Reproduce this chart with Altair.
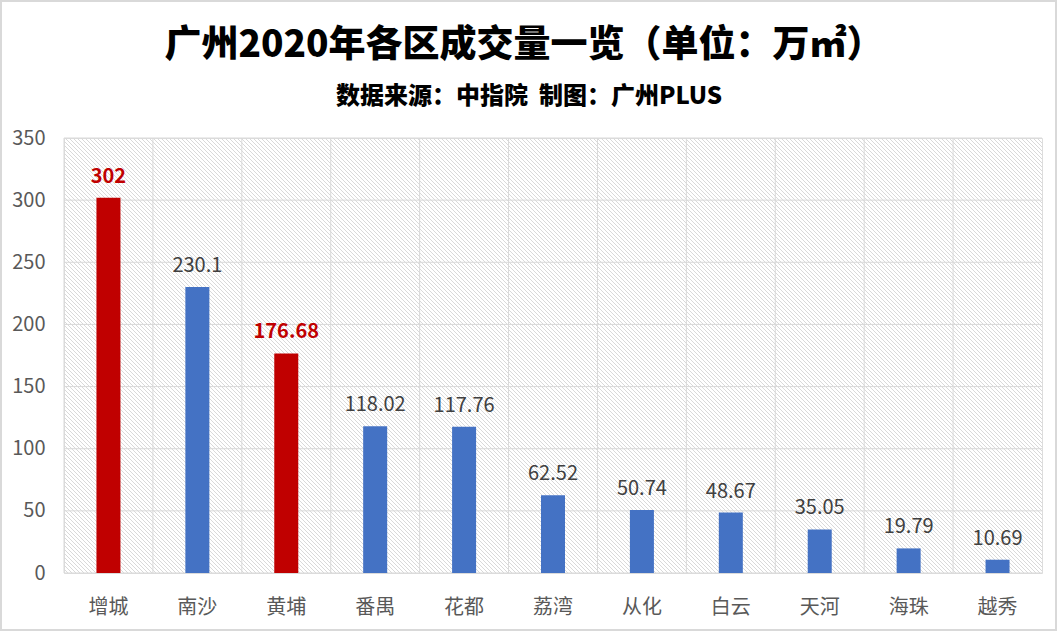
import altair as alt
import pandas as pd

districts = ["增城", "南沙", "黄埔", "番禺", "花都", "荔湾", "从化", "白云", "天河", "海珠", "越秀"]
volumes = [302, 230.1, 176.68, 118.02, 117.76, 62.52, 50.74, 48.67, 35.05, 19.79, 10.69]
highlight = [True, False, True, False, False, False, False, False, False, False, False]
y_ticks = [0, 50, 100, 150, 200, 250, 300, 350]

title_text = "广州2020年各区成交量一览（单位：万㎡）"
subtitle_text = "数据来源：中指院\u00a0\u00a0制图：广州PLUS"

df = pd.DataFrame({"district": districts, "volume": volumes, "hl": highlight})
ticks_df = pd.DataFrame({"v": y_ticks})

FONT = "Noto Sans CJK SC"
W, H = 978, 435
GRID = "#d9d9d9"
HATCH = "#d9d9d9"
HATCH_STEP = 4
n_hatch = (W + H) // HATCH_STEP + 2

# ---- decorative diagonal hatch in pixel space (own independent scales) ----
hatch = alt.Chart(alt.sequence(0, n_hatch, as_="i")).transform_calculate(
    x0=f"-{H} + {HATCH_STEP} * datum.i",
    x1=f"-{H} + {HATCH_STEP} * datum.i + {H}",
    yt=f"{H}",
    yb="0",
).mark_rule(clip=True, stroke=HATCH, strokeWidth=1).encode(
    x=alt.X("x0:Q", scale=alt.Scale(domain=[0, W], nice=False, zero=False), axis=None),
    x2="x1:Q",
    y=alt.Y("yt:Q", scale=alt.Scale(domain=[0, H], nice=False, zero=False), axis=None),
    y2="yb:Q",
)

# ---- vertical grid lines at category boundaries ----
vgrid = alt.Chart(df).mark_rule(color=GRID, strokeWidth=1).encode(
    x=alt.X("district:N", sort=districts, bandPosition=0,
            scale=alt.Scale(paddingInner=0, paddingOuter=0), axis=None),
)

# ---- main layer ----
x_axis = alt.Axis(
    title=None, orient="bottom", labelAngle=0, ticks=False, domain=False, grid=False,
    labelFont=FONT, labelFontSize=20, labelColor="#595959", labelPadding=24,
)
y_axis = alt.Axis(
    title=None, orient="left", values=y_ticks, ticks=False, domain=False, grid=False,
    labelFont=FONT, labelFontSize=20, labelColor="#595959", labelPadding=19,
)
x_scale = alt.Scale(paddingInner=0.73, paddingOuter=0.365)
y_scale = alt.Scale(domain=[0, 350], nice=False)

x_enc = alt.X("district:N", sort=districts, scale=x_scale, axis=x_axis)

hgrid = alt.Chart(ticks_df).mark_rule(color=GRID, strokeWidth=1).encode(
    y=alt.Y("v:Q", scale=y_scale, axis=y_axis)
)

bars = alt.Chart(df).mark_bar().encode(
    x=x_enc,
    y=alt.Y("volume:Q", scale=y_scale, axis=y_axis),
    color=alt.condition("datum.hl", alt.value("#C00000"), alt.value("#4472C4")),
)

lab_norm = alt.Chart(df).transform_filter("!datum.hl").mark_text(
    font=FONT, fontSize=20, color="#404040", baseline="alphabetic", dy=-15
).encode(
    x=x_enc, y=alt.Y("volume:Q", scale=y_scale, axis=y_axis),
    text=alt.Text("volume:Q", format="~f"),
)
lab_hl = alt.Chart(df).transform_filter("datum.hl").mark_text(
    font=FONT, fontSize=20, fontWeight="bold", color="#C00000", baseline="alphabetic", dy=-15
).encode(
    x=x_enc, y=alt.Y("volume:Q", scale=y_scale, axis=y_axis),
    text=alt.Text("volume:Q", format="~f"),
)

title_mark = alt.Chart(alt.Data(values=[{"t": title_text}])).mark_text(
    font=FONT, fontSize=37, fontWeight=900, color="#000000", align="center", baseline="middle"
).encode(x=alt.value(460), y=alt.value(-92), text="t:N")

subtitle_mark = alt.Chart(alt.Data(values=[{"t": subtitle_text}])).mark_text(
    font=FONT, fontSize=24, fontWeight=900, color="#000000", align="center", baseline="middle"
).encode(x=alt.value(465), y=alt.value(-41), text="t:N")

frame = alt.Chart(alt.Data(values=[{}])).mark_rect(
    filled=False, stroke=GRID, strokeWidth=2
).encode(
    x=alt.value(-63), x2=alt.value(992), y=alt.value(-137), y2=alt.value(492)
)

main = alt.layer(hgrid, bars, lab_norm, lab_hl, title_mark, subtitle_mark, frame)

chart = alt.layer(hatch, vgrid, main).resolve_scale(
    x="independent", y="independent"
).properties(
    width=W, height=H,
    autosize=alt.AutoSizeParams(type="none"),
    padding={"left": 64, "top": 138, "right": 16, "bottom": 59},
).configure_view(stroke=GRID, strokeWidth=1).configure(background="#ffffff")

chart.save("out.html", embed_options={"renderer": "svg", "actions": False})
